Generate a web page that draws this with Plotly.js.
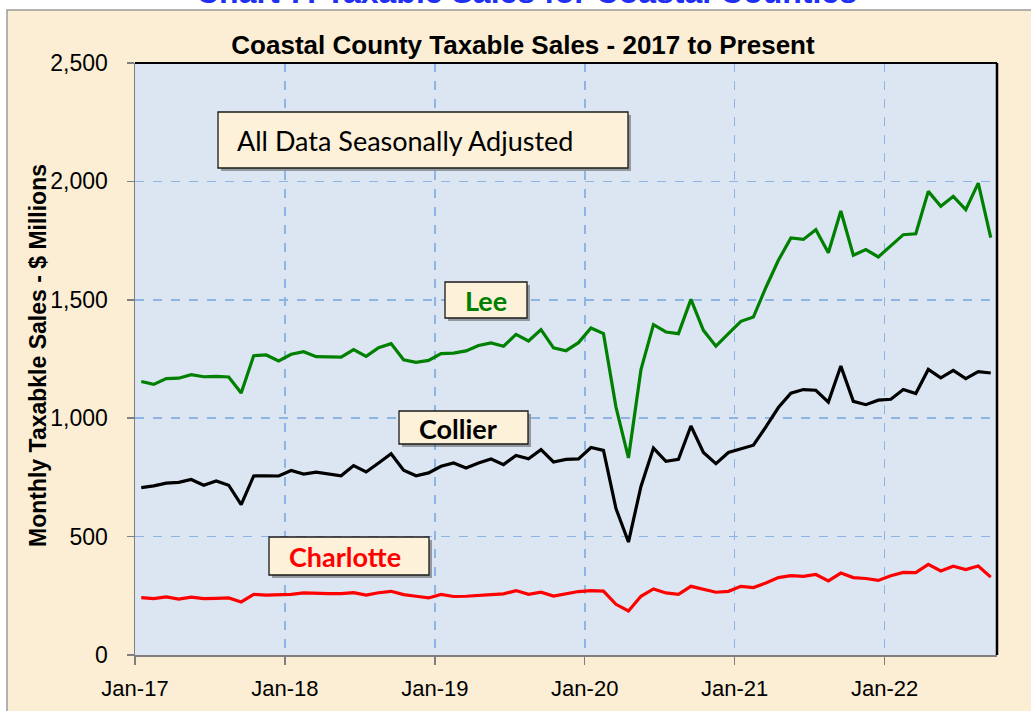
<!DOCTYPE html>
<html>
<head>
<meta charset="utf-8">
<script src="https://cdn.plot.ly/plotly-3.0.1.min.js"></script>
<style>
  html, body { margin: 0; padding: 0; background: #ffffff; }
  #chart { width: 1031px; height: 711px; }
</style>
</head>
<body>
<div id="chart"></div>
<script>
// ---- Data ($ millions, monthly, Jan-17 .. Sep-22) ----
const monthLabels = [
  "Jan-17","Feb-17","Mar-17","Apr-17","May-17","Jun-17","Jul-17","Aug-17","Sep-17","Oct-17","Nov-17","Dec-17",
  "Jan-18","Feb-18","Mar-18","Apr-18","May-18","Jun-18","Jul-18","Aug-18","Sep-18","Oct-18","Nov-18","Dec-18",
  "Jan-19","Feb-19","Mar-19","Apr-19","May-19","Jun-19","Jul-19","Aug-19","Sep-19","Oct-19","Nov-19","Dec-19",
  "Jan-20","Feb-20","Mar-20","Apr-20","May-20","Jun-20","Jul-20","Aug-20","Sep-20","Oct-20","Nov-20","Dec-20",
  "Jan-21","Feb-21","Mar-21","Apr-21","May-21","Jun-21","Jul-21","Aug-21","Sep-21","Oct-21","Nov-21","Dec-21",
  "Jan-22","Feb-22","Mar-22","Apr-22","May-22","Jun-22","Jul-22","Aug-22","Sep-22"
];
const lee = [1155,1143,1167,1169,1184,1175,1177,1174,1106,1264,1267,1242,
  1270,1281,1260,1260,1258,1290,1261,1298,1315,1247,1236,1244,
  1273,1275,1284,1307,1318,1304,1354,1326,1374,1297,1285,1319,
  1381,1357,1047,832,1205,1395,1364,1357,1502,1371,1304,1357,
  1409,1427,1552,1667,1761,1755,1796,1699,1875,1688,1712,1681,
  1726,1775,1779,1958,1895,1937,1881,1993,1763];
const collier = [707,714,726,729,741,717,735,717,635,756,757,756,
  779,764,772,766,757,800,773,811,850,780,757,769,
  797,811,790,811,828,804,843,829,867,815,826,828,
  876,864,618,477,712,874,818,826,967,855,808,855,
  869,886,963,1045,1106,1121,1118,1068,1220,1071,1057,1076,
  1080,1121,1104,1206,1170,1202,1167,1197,1191];
const charlotte = [242,238,245,236,244,238,239,241,224,256,253,254,
  256,262,259,259,259,263,253,263,269,255,248,241,
  256,247,248,253,255,258,272,256,265,249,260,268,
  272,270,214,186,248,279,262,256,290,276,265,269,
  290,285,304,327,335,332,340,313,346,327,323,315,
  335,349,348,383,355,375,361,376,329];
const tickLabels = ["Jan-17","Jan-18","Jan-19","Jan-20","Jan-21","Jan-22"];
const yTicks = [0,500,1000,1500,2000,2500];

// ---- Geometry helpers (pixels -> paper coords) ----
const W = 1031, H = 711;
const M = {l: 135, r: 34, t: 63, b: 56};
const PW = W - M.l - M.r, PH = H - M.t - M.b;
const px = x => (x - M.l) / PW;
const py = y => (H - M.b - y) / PH;

const xIdx = monthLabels.map((_, i) => i);
const tickVals = tickLabels.map(lbl => monthLabels.indexOf(lbl) - 0.5);

const traces = [
  {x: xIdx, y: lee, name: "Lee", mode: "lines", line: {color: "#008000", width: 3.2}},
  {x: xIdx, y: collier, name: "Collier", mode: "lines", line: {color: "#000000", width: 3.2}},
  {x: xIdx, y: charlotte, name: "Charlotte", mode: "lines", line: {color: "#ff0000", width: 3.2}}
];

function box(x0, y0, x1, y1) {
  return [
    {type: "rect", xref: "paper", yref: "paper", layer: "above",
     x0: px(x0 + 3), x1: px(x1 + 3), y0: py(y1 + 3), y1: py(y0 + 3),
     fillcolor: "rgba(60,60,60,0.45)", line: {width: 0}},
    {type: "rect", xref: "paper", yref: "paper", layer: "above",
     x0: px(x0), x1: px(x1), y0: py(y1), y1: py(y0),
     fillcolor: "#fdf1da", line: {color: "#1a1a1a", width: 1.3}}
  ];
}

const shapes = [
  // outer beige frame
  {type: "rect", xref: "paper", yref: "paper", layer: "below",
   x0: px(7), x1: px(1040), y0: py(720), y1: py(10),
   fillcolor: "#fbeed4", line: {color: "#9a9a9a", width: 1.5}},
  // plot area fill
  {type: "rect", xref: "paper", yref: "paper", layer: "below",
   x0: 0, x1: 1, y0: 0, y1: 1, fillcolor: "#dce6f2", line: {width: 0}},
  // top & right black border
  {type: "line", xref: "paper", yref: "paper", layer: "above", x0: 0, x1: 1, y0: 1, y1: 1,
   line: {color: "#000000", width: 2}},
  {type: "line", xref: "paper", yref: "paper", layer: "above", x0: 1, x1: 1, y0: 0, y1: 1,
   line: {color: "#000000", width: 2.5}},
  ...box(218, 112, 628, 168),
  ...box(445, 282, 527, 318),
  ...box(399, 411, 528, 444),
  ...box(269, 537, 429, 575)
];

const annFont = "Lato, 'Open Sans', sans-serif";
const sansFont = "'Liberation Sans', Arial, sans-serif";
const annotations = [
  {xref: "paper", yref: "paper", x: px(526), y: py(-8), xanchor: "center", yanchor: "middle",
   text: "<b>Chart 7: Taxable Sales for Coastal Counties</b>", showarrow: false,
   font: {family: sansFont, size: 32, color: "#1f2ff5"}},
  {xref: "paper", yref: "paper", x: px(405), y: py(140), xanchor: "center", yanchor: "middle",
   text: "All Data Seasonally Adjusted", showarrow: false,
   font: {family: annFont, size: 27, color: "#000000"}},
  {xref: "paper", yref: "paper", x: px(486), y: py(300), xanchor: "center", yanchor: "middle",
   text: "<b>Lee</b>", showarrow: false, font: {family: annFont, size: 27, color: "#008000"}},
  {xref: "paper", yref: "paper", x: px(458), y: py(428), xanchor: "center", yanchor: "middle",
   text: "<b>Collier</b>", showarrow: false, font: {family: annFont, size: 27, color: "#000000"}},
  {xref: "paper", yref: "paper", x: px(345), y: py(556), xanchor: "center", yanchor: "middle",
   text: "<b>Charlotte</b>", showarrow: false, font: {family: annFont, size: 27, color: "#ff0000"}},
  {xref: "paper", yref: "paper", x: px(38), y: py(356), xanchor: "center", yanchor: "middle",
   textangle: -90, text: "<b>Monthly Taxabkle Sales - $ Millions</b>", showarrow: false,
   font: {family: sansFont, size: 23, color: "#000000"}}
];

const layout = {
  width: W, height: H,
  margin: M,
  paper_bgcolor: "#ffffff",
  plot_bgcolor: "rgba(0,0,0,0)",
  showlegend: false,
  title: {
    text: "<b>Coastal County Taxable Sales - 2017 to Present</b>",
    x: 523 / W, xanchor: "center", xref: "container",
    y: 1 - 45 / H, yanchor: "middle", yref: "container",
    font: {family: sansFont, size: 26, color: "#000000"}
  },
  xaxis: {
    range: [-0.5, monthLabels.length - 0.5],
    tickmode: "array", tickvals: tickVals, ticktext: tickLabels,
    showgrid: true, gridcolor: "#8db4e2", gridwidth: 1.6, griddash: "dash",
    zeroline: false,
    showline: true, linecolor: "#7f7f7f", linewidth: 1.5,
    ticks: "outside", ticklen: 8, tickcolor: "#7f7f7f", tickwidth: 1.5,
    ticklabelstandoff: 5,
    tickfont: {family: sansFont, size: 22, color: "#000000"},
    fixedrange: true
  },
  yaxis: {
    range: [0, 2500],
    tickmode: "array", tickvals: yTicks, tickformat: ",",
    showgrid: true, gridcolor: "#8db4e2", gridwidth: 1.6, griddash: "dash",
    zeroline: false,
    showline: true, linecolor: "#7f7f7f", linewidth: 1.5,
    ticks: "outside", ticklen: 7, tickcolor: "#7f7f7f", tickwidth: 1.5,
    ticklabelstandoff: 14,
    tickfont: {family: sansFont, size: 23, color: "#000000"},
    fixedrange: true
  },
  shapes: shapes,
  annotations: annotations
};

Plotly.newPlot("chart", traces, layout, {staticPlot: true, displayModeBar: false});
</script>
</body>
</html>
